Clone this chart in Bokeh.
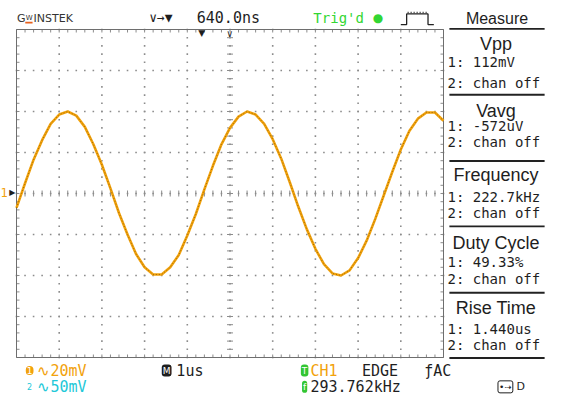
import numpy as np
from bokeh.plotting import figure
from bokeh.models import Range1d, Label
from bokeh.embed import file_html
from bokeh.resources import INLINE

# ---------------- data ----------------
time_us = [-5.0, -4.8, -4.6, -4.4, -4.2, -4.0, -3.8, -3.6, -3.4, -3.2,
           -3.0, -2.8, -2.6, -2.4, -2.2, -2.0, -1.8, -1.6, -1.4, -1.2,
           -1.0, -0.8, -0.6, -0.4, -0.2, 0.0, 0.2, 0.4, 0.6, 0.8,
           1.0, 1.2, 1.4, 1.6, 1.8, 2.0, 2.2, 2.4, 2.6, 2.8,
           3.0, 3.2, 3.4, 3.6, 3.8, 4.0, 4.2, 4.4, 4.6, 4.8, 5.0]
ch1_mV = [-7.0, 5.0, 16.5, 26.0, 34.0, 38.5, 40.0, 38.0, 32.5, 24.0,
          14.0, 2.5, -9.5, -20.0, -29.5, -36.0, -39.5, -39.5, -36.0, -30.0,
          -20.5, -10.0, 2.0, 13.5, 24.0, 32.0, 37.5, 40.0, 38.5, 34.0,
          26.5, 17.0, 5.5, -6.5, -17.5, -27.0, -34.5, -39.0, -40.0, -37.5,
          -31.5, -23.0, -12.5, -1.0, 10.5, 21.5, 30.5, 36.5, 39.5, 39.5, 35.5]

measure_names = ["Vpp", "Vavg", "Frequency", "Duty Cycle", "Rise Time"]
ch1_values = ["1: 112mV", "1: -572uV", "1: 222.7kHz", "1: 49.33%", "1: 1.440us"]
ch2_values = ["2: chan off"] * 5

x_div_ticks = [-4, -3, -2, -1, 0, 1, 2, 3, 4]          # 1 us / div
y_div_ticks = [-60, -40, -20, 0, 20, 40, 60]          # 20 mV / div
XR = (-5.0, 5.0)      # graticule span, us
YR = (-80.0, 80.0)    # graticule span, mV

# ---------------- layout helpers ----------------
W, H = 548, 395
GL, GT, GW, GH = 16, 29, 427, 328     # graticule box inside the canvas (px)
SX, SY = W / 564.0, H / 411.0
UX = (XR[1] - XR[0]) / GW            # data units per pixel
UY = (YR[1] - YR[0]) / GH

x_range = Range1d(XR[0] - GL * UX, XR[1] + (W - GL - GW) * UX)
y_range = Range1d(YR[0] - (H - GT - GH) * UY, YR[1] + GT * UY)


def dx(rx):
    return XR[0] + (rx * SX - GL) * UX


def dy(ry):
    return YR[1] - (ry * SY - GT) * UY


p = figure(width=W, height=H, x_range=x_range, y_range=y_range,
           min_border=0, x_axis_type=None, y_axis_type=None,
           output_backend="svg", toolbar_location=None)
p.background_fill_color = "white"
p.border_fill_color = "white"
p.outline_line_color = None
p.xgrid.visible = False
p.ygrid.visible = False

GRID = "#8c8c8c"
# dotted graticule: dots every 1/5 division along each division line
x_minor = np.linspace(XR[0], XR[1], 51)
y_minor = np.linspace(YR[0], YR[1], 41)
dot_x, dot_y = [], []
for xt in x_div_ticks:
    dot_x += [xt] * len(y_minor)
    dot_y += list(y_minor)
for yt in y_div_ticks:
    dot_x += list(x_minor)
    dot_y += [yt] * len(x_minor)
p.scatter(dot_x, dot_y, marker="square", size=1.6, color=GRID, line_alpha=0)

# tick marks on the centre cross and along the border
ny, nx = len(y_minor), len(x_minor)
p.segment(x0=[-3 * UX] * ny, x1=[3 * UX] * ny, y0=list(y_minor), y1=list(y_minor),
          line_color=GRID, line_width=1)
p.segment(x0=list(x_minor), x1=list(x_minor), y0=[-3 * UY] * nx, y1=[3 * UY] * nx,
          line_color=GRID, line_width=1)
for xe, sgn in ((XR[0], 1), (XR[1], -1)):
    p.segment(x0=[xe] * ny, x1=[xe + sgn * 3 * UX] * ny, y0=list(y_minor),
              y1=list(y_minor), line_color=GRID, line_width=1)
for ye, sgn in ((YR[0], 1), (YR[1], -1)):
    p.segment(x0=list(x_minor), x1=list(x_minor), y0=[ye] * nx,
              y1=[ye + sgn * 3 * UY] * nx, line_color=GRID, line_width=1)
# graticule border
p.quad(left=[XR[0]], right=[XR[1]], bottom=[YR[0]], top=[YR[1]],
       fill_alpha=0, line_color="#6e6e6e", line_width=1)

# ---------------- trace ----------------
p.line(time_us, ch1_mV, line_color="#f2a20c", line_width=2.6)
p.line(time_us, ch1_mV, line_color="#5a3c00", line_width=1, line_alpha=0.55,
       line_dash="1 2")

# ---------------- texts ----------------
MONO = "DejaVu Sans Mono"
SANS = "Liberation Sans"
INK = "#1e1e1e"


def lab(rx, ry, text, size=14, color=INK, font=MONO, align="left",
        baseline="middle", style="normal", **kw):
    p.add_layout(Label(x=dx(rx), y=dy(ry), text=text, text_font=font,
                       text_font_size=f"{size}px", text_color=color,
                       text_align=align, text_baseline=baseline,
                       text_font_style=style, **kw))


def hbar(x0, x1, yc, thick, color):
    p.quad(left=[dx(x0)], right=[dx(x1)], top=[dy(yc - thick / 2)],
           bottom=[dy(yc + thick / 2)], fill_color=color, line_alpha=0)


# header
lab(17, 19, "G", 11, "#333333", font="DejaVu Sans")
lab(26, 18, "W", 7, "#333333", font="DejaVu Sans")
hbar(25.5, 33, 23, 2, "#e8601c")
lab(34, 19, "INSTEK", 11, "#333333", font="DejaVu Sans")
lab(153, 18, "∨→▼", 13, INK)
lab(202, 18, "640.0ns", 15, INK)
lab(322, 18, "Trig'd", 14, "#33d633")
lab(383, 18, "●", 12, "#33d633", font="DejaVu Sans")
pxs = [412, 418, 418, 440, 440, 446]
pys = [25, 25, 14, 14, 25, 25]
p.line([dx(v) for v in pxs], [dy(v) for v in pys], line_color="#222222",
       line_width=1.3)
p.line([dx(419), dx(439)], [dy(12.5), dy(12.5)], line_color="#222222",
       line_width=1.3, line_dash="1 2")
lab(511, 19, "Measure", 16, INK, font=SANS, align="center")
hbar(462, 560, 29.5, 2, "#222222")

# markers at top of the graticule
lab(207, 34, "▼", 9, INK, font="DejaVu Sans", align="center")
lab(236, 34, "∨", 10, INK, align="center")
# channel 1 ground marker
lab(0, 200, "1", 12, "#f2a20c")
lab(9, 200, "▶", 8, INK, font="DejaVu Sans")

# measure panel
title_y = [45, 115, 182, 252, 320]
val1_y = [64, 131, 204, 272, 342]
val2_y = [86, 147, 221, 290, 358]
sep_y = [98, 167, 235, 304, 372]
for name, v1, v2, ty, y1, y2, sy_ in zip(measure_names, ch1_values, ch2_values,
                                         title_y, val1_y, val2_y, sep_y):
    lab(510, ty, name, 18, INK, font=SANS, align="center")
    lab(460, y1, v1, 14, INK)
    lab(460, y2, v2, 14, INK)
    hbar(462, 560, sy_, 2, "#222222")

# bottom status line
lab(30, 385, "1", 9, "white", font="DejaVu Sans", align="center",
    background_fill_color="#f2a20c", border_radius=6, padding=1)
lab(38, 385, "∿20mV", 15, "#f2a20c")
lab(30, 402, "2", 8, "#22c8d8", font="DejaVu Sans", align="center")
lab(38, 402, "∿50mV", 15, "#22c8d8")
lab(171, 385, "M", 9, "white", font="DejaVu Sans", align="center",
    background_fill_color=INK, border_radius=3, padding=1)
lab(181, 385, "1us", 15, INK)
lab(313, 385, "T", 9, "white", font="DejaVu Sans", align="center",
    background_fill_color="#33c633", border_radius=3, padding=1)
lab(319, 385, "CH1", 15, "#f2a20c")
lab(372, 385, "EDGE", 15, INK)
lab(436, 385, "ƒAC", 15, INK)
lab(313, 402, "f", 9, "white", font="DejaVu Sans", align="center",
    background_fill_color="#33c633", border_radius=3, padding=1)
lab(319, 402, "293.762kHz", 15, INK)
lab(512, 402, "•⇢", 9, INK, font="DejaVu Sans",
    border_line_color=INK, border_radius=2, padding=1)
lab(531, 402, "D", 11, INK, font="DejaVu Sans")

open("out.html", "w").write(file_html(p, INLINE))
